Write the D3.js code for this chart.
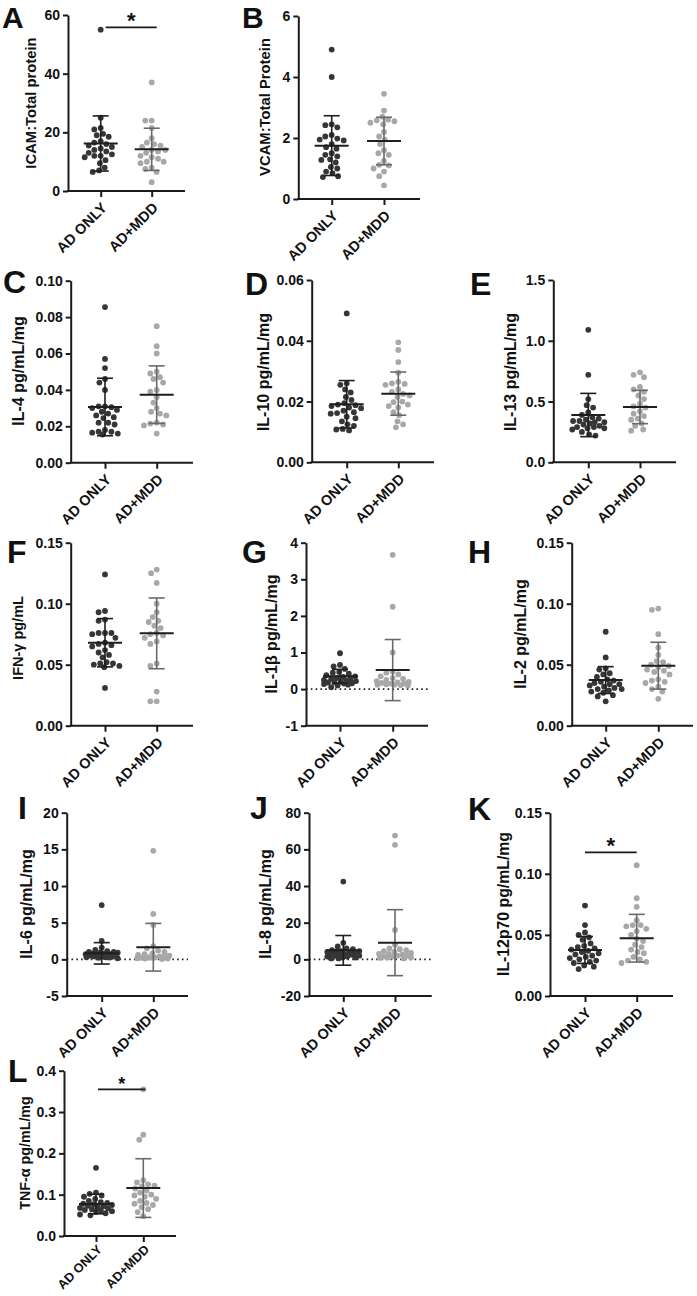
<!DOCTYPE html>
<html><head><meta charset="utf-8">
<script src="https://cdn.jsdelivr.net/npm/d3@7"></script>
<style>
body{margin:0;background:#fff;}
svg{display:block;}
text{font-family:"Liberation Sans",Arial,sans-serif;font-weight:bold;fill:#111;}
</style>
</head><body>
<svg id="chart" width="697" height="1296"></svg>
<script>
// ---------------- DATA ----------------
const groups = ["AD ONLY", "AD+MDD"];

const icamAD  = [55, 25, 21.5, 21, 19.5, 19, 18.5, 17, 16.5, 16, 15.5, 15, 14.5, 14, 13.5, 13, 12.5, 12, 12, 11.5, 10.5, 9.5, 8, 7, 6.5];
const icamMDD = [37, 24, 24, 21.5, 18, 16.5, 16, 15.5, 15, 14, 14, 13.5, 13, 12, 11.5, 11, 10, 10, 9.5, 8, 7.5, 6.5, 3];
const icamMean = [16.2, 14.2], icamSD = [9.4, 7.2], icamTicks = [0, 20, 40, 60], icamSig = 55.8;

const vcamAD  = [4.9, 4.0, 2.45, 2.42, 2.35, 2.1, 2.05, 1.98, 1.95, 1.92, 1.8, 1.7, 1.65, 1.5, 1.45, 1.4, 1.3, 1.28, 1.2, 1.05, 1.0, 0.9, 0.85, 0.75, 0.72];
const vcamMDD = [3.45, 2.9, 2.7, 2.6, 2.58, 2.55, 2.5, 2.45, 2.2, 2.05, 1.95, 1.8, 1.6, 1.5, 1.45, 1.25, 1.12, 1.1, 1.0, 0.9, 0.75, 0.45];
const vcamMean = [1.75, 1.90], vcamSD = [0.98, 0.78], vcamTicks = [0, 2, 4, 6];

const il4AD  = [0.0855, 0.057, 0.052, 0.046, 0.044, 0.040, 0.031, 0.031, 0.0305, 0.030, 0.029, 0.028, 0.027, 0.026, 0.025, 0.0245, 0.022, 0.022, 0.021, 0.018, 0.017, 0.017, 0.0165, 0.016, 0.0155];
const il4MDD = [0.075, 0.064, 0.060, 0.050, 0.049, 0.047, 0.046, 0.044, 0.040, 0.039, 0.036, 0.033, 0.030, 0.028, 0.027, 0.026, 0.022, 0.0215, 0.021, 0.0205, 0.016];
const il4Mean = [0.0306, 0.0374], il4SD = [0.0158, 0.0158], il4Ticks = [0, 0.02, 0.04, 0.06, 0.08, 0.10];

const il10AD  = [0.049, 0.026, 0.0255, 0.024, 0.023, 0.0215, 0.0205, 0.0195, 0.019, 0.0188, 0.0185, 0.018, 0.0178, 0.017, 0.0165, 0.0162, 0.016, 0.015, 0.0145, 0.0135, 0.0125, 0.012, 0.011, 0.0108, 0.0105];
const il10MDD = [0.0395, 0.037, 0.033, 0.0295, 0.0265, 0.026, 0.0258, 0.0255, 0.024, 0.0232, 0.0225, 0.022, 0.0215, 0.020, 0.0198, 0.019, 0.0185, 0.018, 0.0165, 0.0155, 0.0135, 0.0125, 0.0115];
const il10Mean = [0.0191, 0.0226], il10SD = [0.0078, 0.0071], il10Ticks = [0, 0.02, 0.04, 0.06];

const il13AD  = [1.09, 0.72, 0.52, 0.47, 0.45, 0.41, 0.39, 0.37, 0.36, 0.35, 0.34, 0.34, 0.33, 0.33, 0.32, 0.31, 0.30, 0.29, 0.29, 0.28, 0.28, 0.27, 0.25, 0.23, 0.22];
const il13MDD = [0.74, 0.72, 0.70, 0.62, 0.60, 0.58, 0.55, 0.52, 0.48, 0.46, 0.45, 0.42, 0.40, 0.38, 0.36, 0.35, 0.32, 0.30, 0.27, 0.26];
const il13Mean = [0.389, 0.455], il13SD = [0.178, 0.137], il13Ticks = [0, 0.5, 1.0, 1.5];

const ifngAD  = [0.124, 0.094, 0.093, 0.087, 0.086, 0.076, 0.076, 0.076, 0.075, 0.072, 0.068, 0.067, 0.066, 0.065, 0.062, 0.060, 0.058, 0.056, 0.052, 0.051, 0.051, 0.050, 0.049, 0.048, 0.031];
const ifngMDD = [0.128, 0.125, 0.117, 0.100, 0.093, 0.089, 0.086, 0.085, 0.082, 0.080, 0.076, 0.075, 0.074, 0.072, 0.069, 0.067, 0.051, 0.049, 0.028, 0.020, 0.020];
const ifngMean = [0.0680, 0.0757], ifngSD = [0.0198, 0.0290], ifngTicks = [0, 0.05, 0.10, 0.15];

const il1bAD  = [0.98, 0.66, 0.62, 0.55, 0.47, 0.45, 0.42, 0.38, 0.35, 0.33, 0.30, 0.28, 0.27, 0.25, 0.24, 0.22, 0.20, 0.19, 0.18, 0.16, 0.15, 0.14, 0.12, 0.10, 0.05];
const il1bMDD = [3.67, 2.25, 1.0, 0.48, 0.45, 0.40, 0.35, 0.30, 0.28, 0.25, 0.22, 0.20, 0.18, 0.17, 0.15, 0.15, 0.13, 0.12, 0.12, 0.11, 0.10];
const il1bMean = [0.35, 0.52], il1bSD = [0.19, 0.835], il1bTicks = [-1, 0, 1, 2, 3, 4];

const il2AD  = [0.077, 0.056, 0.047, 0.046, 0.043, 0.042, 0.040, 0.038, 0.037, 0.036, 0.035, 0.034, 0.034, 0.033, 0.032, 0.031, 0.030, 0.030, 0.029, 0.028, 0.027, 0.025, 0.024, 0.020];
const il2MDD = [0.096, 0.095, 0.075, 0.064, 0.058, 0.053, 0.052, 0.050, 0.049, 0.048, 0.046, 0.045, 0.044, 0.042, 0.038, 0.037, 0.036, 0.035, 0.032, 0.030, 0.028, 0.022];
const il2Mean = [0.0374, 0.0492], il2SD = [0.011, 0.0192], il2Ticks = [0, 0.05, 0.10, 0.15];

const il6AD  = [7.4, 2.5, 1.6, 1.3, 1.1, 1.0, 1.0, 0.9, 0.9, 0.8, 0.8, 0.7, 0.7, 0.6, 0.6, 0.5, 0.5, 0.45, 0.4, 0.35, 0.3, 0.3, 0.25, 0.2, 0.15];
const il6MDD = [14.8, 6.2, 4.7, 1.8, 1.5, 1.2, 1.0, 0.8, 0.7, 0.6, 0.5, 0.4, 0.35, 0.3, 0.25, 0.2, 0.2, 0.15, 0.1, 0.1, 0.05];
const il6Mean = [0.82, 1.65], il6SD = [1.46, 3.25], il6Ticks = [-5, 0, 5, 10, 15, 20];

const il8AD  = [42.4, 9, 7, 6, 5.5, 5, 4.5, 4.5, 4, 4, 3.5, 3.5, 3, 3, 2.5, 2.5, 2, 2, 1.5, 1.5, 1, 1, 0.5, 0.5];
const il8MDD = [67.5, 62.5, 16, 8, 6, 5.5, 5, 4.5, 4, 3.5, 3, 3, 2.5, 2, 2, 1.5, 1.5, 1, 1, 0.8, 0.5];
const il8Mean = [4.9, 9.1], il8SD = [8.1, 18], il8Ticks = [-20, 0, 20, 40, 60, 80];

const il12AD  = [0.074, 0.058, 0.052, 0.050, 0.048, 0.046, 0.043, 0.041, 0.040, 0.039, 0.038, 0.037, 0.036, 0.035, 0.034, 0.033, 0.032, 0.031, 0.030, 0.029, 0.028, 0.027, 0.025, 0.024, 0.022];
const il12MDD = [0.107, 0.080, 0.073, 0.062, 0.058, 0.058, 0.057, 0.055, 0.053, 0.050, 0.047, 0.045, 0.042, 0.040, 0.038, 0.036, 0.035, 0.032, 0.030, 0.029, 0.028, 0.027];
const il12Mean = [0.0377, 0.0473], il12SD = [0.011, 0.0195], il12Ticks = [0, 0.05, 0.10, 0.15], il12Sig = 0.1176;

const tnfAD  = [0.165, 0.105, 0.102, 0.098, 0.095, 0.090, 0.085, 0.082, 0.080, 0.078, 0.077, 0.075, 0.073, 0.072, 0.070, 0.068, 0.067, 0.065, 0.063, 0.062, 0.060, 0.058, 0.055, 0.052, 0.050];
const tnfMDD = [0.355, 0.245, 0.233, 0.135, 0.130, 0.125, 0.122, 0.120, 0.115, 0.110, 0.105, 0.100, 0.098, 0.095, 0.090, 0.085, 0.080, 0.078, 0.075, 0.070, 0.065, 0.058, 0.048];
const tnfMean = [0.0774, 0.116], tnfSD = [0.0237, 0.071], tnfTicks = [0, 0.1, 0.2, 0.3, 0.4], tnfSig = 0.355;

// ---------------- PANELS ----------------
const panels = [
  {letter:"A", title:"ICAM:Total protein", ad:icamAD, mdd:icamMDD, mean:icamMean, sd:icamSD, ticks:icamTicks, fmt:"d", sig:icamSig},
  {letter:"B", title:"VCAM:Total Protein", ad:vcamAD, mdd:vcamMDD, mean:vcamMean, sd:vcamSD, ticks:vcamTicks, fmt:"d"},
  {letter:"C", title:"IL-4 pg/mL/mg", ad:il4AD, mdd:il4MDD, mean:il4Mean, sd:il4SD, ticks:il4Ticks, fmt:".2f"},
  {letter:"D", title:"IL-10 pg/mL/mg", ad:il10AD, mdd:il10MDD, mean:il10Mean, sd:il10SD, ticks:il10Ticks, fmt:".2f"},
  {letter:"E", title:"IL-13 pg/mL/mg", ad:il13AD, mdd:il13MDD, mean:il13Mean, sd:il13SD, ticks:il13Ticks, fmt:".1f"},
  {letter:"F", title:"IFN-γ pg/mL", ad:ifngAD, mdd:ifngMDD, mean:ifngMean, sd:ifngSD, ticks:ifngTicks, fmt:".2f"},
  {letter:"G", title:"IL-1β pg/mL/mg", ad:il1bAD, mdd:il1bMDD, mean:il1bMean, sd:il1bSD, ticks:il1bTicks, fmt:"d"},
  {letter:"H", title:"IL-2 pg/mL/mg", ad:il2AD, mdd:il2MDD, mean:il2Mean, sd:il2SD, ticks:il2Ticks, fmt:".2f"},
  {letter:"I", title:"IL-6 pg/mL/mg", ad:il6AD, mdd:il6MDD, mean:il6Mean, sd:il6SD, ticks:il6Ticks, fmt:"d"},
  {letter:"J", title:"IL-8 pg/mL/mg", ad:il8AD, mdd:il8MDD, mean:il8Mean, sd:il8SD, ticks:il8Ticks, fmt:"d"},
  {letter:"K", title:"IL-12p70 pg/mL/mg", ad:il12AD, mdd:il12MDD, mean:il12Mean, sd:il12SD, ticks:il12Ticks, fmt:".2f", sig:il12Sig},
  {letter:"L", title:"TNF-α pg/mL/mg", ad:tnfAD, mdd:tnfMDD, mean:tnfMean, sd:tnfSD, ticks:tnfTicks, fmt:".1f", sig:tnfSig}
];

// ---------------- LAYOUT (pixels) ----------------
const layout = [
  {ax:68,    top:15,    bottom:191,   end:185,   g:[100.7,151.7], lx:2,   ly:28,   tx:31,    ty:103,  ts:14.8, star:22, xs:14.5, sx:5, ls:30},
  {ax:298.3, top:16,    bottom:199,   end:420,   g:[331.7,384],   lx:242, ly:28,   tx:265,   ty:107,  ts:14.8, xs:14.5, ls:30},
  {ax:70.7,  top:280.7, bottom:462.7, end:193,   g:[105,156.7],   lx:3,   ly:293,  tx:18.7,  ty:371,  ts:16, xs:14.5},
  {ax:311.7, top:280,   bottom:462.3, end:434,   g:[346.7,398.3], lx:245, ly:295,  tx:263,   ty:372,  ts:16, xs:14.5},
  {ax:553.3, top:280,   bottom:462.3, end:676,   g:[588.3,640],   lx:470, ly:295,  tx:510.7, ty:372,  ts:16, xs:14.5},
  {ax:70.7,  top:542.7, bottom:725.7, end:193,   g:[105,156.7],   lx:7,   ly:563,  tx:18,    ty:638,  ts:14.5, xs:14.5},
  {ax:306,   top:542.7, bottom:725.7, end:428,   g:[340,392.7],   lx:242, ly:563,  tx:271.7, ty:634,  ts:16, xs:14.5},
  {ax:571.7, top:542.7, bottom:725.7, end:693,   g:[605.7,658.3], lx:468, ly:563,  tx:520.7, ty:634,  ts:16, xs:14.5},
  {ax:66.7,  top:812.7, bottom:996,   end:188,   g:[101.7,153.3], lx:18,  ly:819,  tx:26.7,  ty:904,  ts:16, xs:14.5},
  {ax:309,   top:812.7, bottom:996,   end:431.7, g:[343.3,395],   lx:250, ly:819,  tx:265,   ty:904,  ts:16, xs:14.5},
  {ax:550,   top:812.7, bottom:996,   end:673,   g:[585,636.7],   lx:468, ly:820,  tx:503.3, ty:904,  ts:15.8, star:22, xs:14.5, sx:0},
  {ax:64,    top:1070.7,bottom:1236,  end:176,   g:[96,143.3],    lx:8,   ly:1082, tx:25,    ty:1153, ts:14.3, star:18, xs:12.8, sx:2, xoff:11}
];

const svg = d3.select("#chart");
const darkDot = "#363636", lightDot = "#a8a8a8";
const R = 2.9, MAXW = 16.5;

// bounded dodge layout: points kept within +-MAXW of the group centre
function swarm(vals, y, cx, r) {
  const placed = [];
  const sorted = vals.map(v => ({v, y: y(v)})).sort((a, b) => a.y - b.y);
  const minD = 2 * r + 0.4;
  const offs = [];
  for (let k = 0; ; k++) {
    const off = (k % 2 === 0 ? 1 : -1) * Math.ceil(k / 2) * 0.8;
    if (Math.abs(off) > MAXW) break;
    offs.push(off);
  }
  sorted.forEach(p => {
    let best = null, bestD = -1;
    for (const off of offs) {
      let dmin = Infinity;
      placed.forEach(q => {
        const dx = (cx + off) - q.x, dy = p.y - q.y;
        dmin = Math.min(dmin, Math.sqrt(dx * dx + dy * dy));
      });
      if (dmin >= minD) { best = off; bestD = dmin; break; }
      if (dmin > bestD) { bestD = dmin; best = off; }
    }
    p.x = cx + best;
    placed.push(p);
  });
  return placed;
}

const font = "'Liberation Sans',Arial,sans-serif";

panels.forEach((P, i) => {
  const L = layout[i];
  const g = svg.append("g");
  const yDom = d3.extent(P.ticks);
  const y = d3.scaleLinear().domain(yDom).range([L.bottom, L.top]);
  const x = d3.scalePoint().domain(groups).range(L.g);
  const f = d3.format(P.fmt);
  const fmt = v => f(v).replace("\u2212", "-");

  // zero dotted line
  if (yDom[0] < 0) {
    g.append("line").attr("x1", L.ax).attr("x2", L.end)
      .attr("y1", y(0)).attr("y2", y(0))
      .attr("stroke", "#222").attr("stroke-width", 1.6).attr("stroke-dasharray", "1.6,3.2");
  }

  // y axis
  const yAxis = g.append("g").attr("transform", `translate(${L.ax},0)`)
    .call(d3.axisLeft(y).tickValues(P.ticks).tickFormat(fmt).tickSize(5).tickSizeOuter(0).tickPadding(3));
  yAxis.select(".domain").attr("stroke", "#1a1a1a").attr("stroke-width", 2);
  yAxis.selectAll(".tick line").attr("stroke", "#1a1a1a").attr("stroke-width", 2);
  yAxis.selectAll("text").style("font-size", "14px").style("font-family", font).style("font-weight", "bold").attr("fill", "#111");

  // x axis line
  g.append("line").attr("x1", L.ax - 1).attr("x2", L.end).attr("y1", L.bottom).attr("y2", L.bottom)
    .attr("stroke", "#1a1a1a").attr("stroke-width", 2);
  const xAxis = g.append("g").attr("transform", `translate(0,${L.bottom})`)
    .call(d3.axisBottom(x).tickSize(6).tickSizeOuter(0));
  xAxis.select(".domain").remove();
  xAxis.selectAll(".tick line").attr("stroke", "#1a1a1a").attr("stroke-width", 2);
  xAxis.selectAll("text")
    .attr("y", null).attr("dy", "0.35em")
    .attr("transform", `translate(3,${L.xoff || 14}) rotate(-45)`)
    .attr("text-anchor", "end")
    .style("font-size", L.xs + "px").style("font-family", font).style("font-weight", "bold").attr("fill", "#111");

  // dots
  const sets = [{vals: P.ad, c: darkDot, gx: x(groups[0])}, {vals: P.mdd, c: lightDot, gx: x(groups[1])}];
  sets.forEach(s => {
    g.append("g").selectAll("circle").data(swarm(s.vals, y, s.gx, R)).join("circle")
      .attr("cx", d => d.x).attr("cy", d => d.y).attr("r", R).attr("fill", s.c);
  });

  // mean & SD
  groups.forEach((grp, k) => {
    const cx = x(grp), m = P.mean[k], s = P.sd[k];
    const col = k === 0 ? "#1e1e1e" : "#6a6a6a";
    const eg = g.append("g");
    eg.append("line").attr("x1", cx).attr("x2", cx).attr("y1", y(m - s)).attr("y2", y(m + s)).attr("stroke", col).attr("stroke-width", 1.6);
    [m - s, m + s].forEach(v => eg.append("line").attr("x1", cx - 8).attr("x2", cx + 8).attr("y1", y(v)).attr("y2", y(v)).attr("stroke", col).attr("stroke-width", 1.6));
    eg.append("line").attr("x1", cx - 17).attr("x2", cx + 17).attr("y1", y(m)).attr("y2", y(m)).attr("stroke", "#1e1e1e").attr("stroke-width", 2);
  });

  // significance
  if (P.sig !== undefined) {
    const sy = y(P.sig);
    const x1 = x(groups[0]) + L.sx, x2 = x(groups[1]) + L.sx;
    g.append("line").attr("x1", x1).attr("x2", x2).attr("y1", sy).attr("y2", sy).attr("stroke", "#1a1a1a").attr("stroke-width", 1.8);
    g.append("text").attr("x", (x1 + x2) / 2).attr("y", sy + 1).attr("text-anchor", "middle")
      .style("font-size", L.star + "px").text("*");
  }

  // y title
  g.append("text").attr("transform", `translate(${L.tx},${L.ty}) rotate(-90)`)
    .attr("text-anchor", "middle").attr("dy", "0.35em")
    .style("font-size", L.ts + "px").text(P.title);

  // panel letter
  g.append("text").attr("x", L.lx).attr("y", L.ly).style("font-size", (L.ls || 32) + "px").text(P.letter);
});
</script>
</body></html>
